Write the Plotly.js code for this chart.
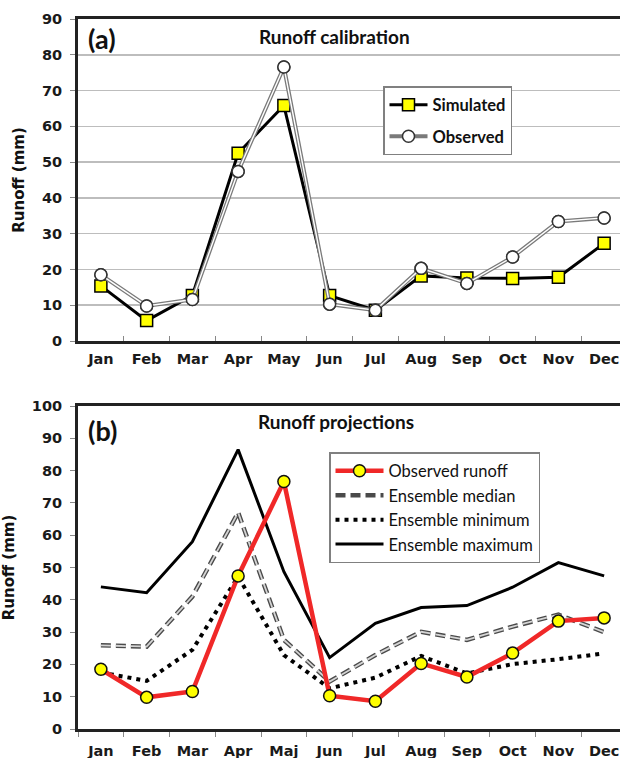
<!DOCTYPE html>
<html><head><meta charset="utf-8">
<script src="https://cdn.plot.ly/plotly-3.0.1.min.js"></script>
<style>html,body{margin:0;padding:0;overflow:hidden;background:#fff;width:620px;height:758px}#chart{width:640px;height:758px}</style>
</head><body><div id="chart"></div><script>
const monthsA = ['Jan','Feb','Mar','Apr','May','Jun','Jul','Aug','Sep','Oct','Nov','Dec'];
const monthsB = ['Jan','Feb','Mar','Apr','Maj','Jun','Jul','Aug','Sep','Oct','Nov','Dec'];
const simulated = [15.4, 5.7, 12.7, 52.5, 65.8, 12.7, 8.6, 18.2, 17.6, 17.5, 17.8, 27.3];
const observed  = [18.5, 9.8, 11.6, 47.4, 76.6, 10.3, 8.6, 20.3, 16.1, 23.5, 33.4, 34.4];
const ensMedian = [25.9, 25.5, 41.0, 67.0, 27.6, 14.7, 22.9, 30.1, 27.6, 31.7, 35.4, 30.0];
const ensMin    = [17.5, 14.9, 24.5, 47.2, 22.9, 12.6, 15.9, 22.6, 17.2, 20.1, 21.6, 23.4];
const ensMax    = [44.0, 42.2, 58.0, 86.5, 48.7, 22.1, 32.7, 37.6, 38.2, 43.9, 51.5, 47.4];
const yTicksA = [0,10,20,30,40,50,60,70,80,90];
const yTicksB = [0,10,20,30,40,50,60,70,80,90,100];

const W = 640, H = 758;
const px = v => v / W, py = v => 1 - v / H;
const yellow = '#FFFF00';

const traces = [
  {x: monthsA, y: simulated, name: 'Simulated', mode: 'lines+markers', xaxis: 'x', yaxis: 'y',
   legend: 'legend', legendgroup: 'sim',
   line: {color: '#000', width: 3},
   marker: {symbol: 'square', size: 12, color: yellow, line: {color: '#000', width: 1.5}}},
  {x: monthsA, y: observed, name: 'Observed', mode: 'lines+markers', xaxis: 'x', yaxis: 'y',
   legend: 'legend', legendgroup: 'obs',
   line: {color: '#7a7a7a', width: 4},
   marker: {symbol: 'circle', size: 12, color: '#fff', line: {color: '#333', width: 1.5}}},
  {x: monthsA, y: observed, mode: 'lines', xaxis: 'x', yaxis: 'y', showlegend: false, legendgroup: 'obs',
   line: {color: '#fff', width: 1.4}, hoverinfo: 'skip'},
  {x: monthsA, y: observed, mode: 'markers', xaxis: 'x', yaxis: 'y', showlegend: false, legendgroup: 'obs',
   marker: {symbol: 'circle', size: 12, color: '#fff', line: {color: '#333', width: 1.5}}},

  {x: monthsB, y: ensMax, name: 'Ensemble maximum', mode: 'lines', xaxis: 'x2', yaxis: 'y2',
   legend: 'legend2', legendrank: 4, line: {color: '#000', width: 3}},
  {x: monthsB, y: ensMedian, name: 'Ensemble median', mode: 'lines', xaxis: 'x2', yaxis: 'y2',
   legend: 'legend2', legendrank: 2, line: {color: '#4a4a4a', width: 4.5, dash: '10px,5px'}},
  {x: monthsB, y: ensMedian, mode: 'lines', xaxis: 'x2', yaxis: 'y2', showlegend: false,
   line: {color: '#d4d4d4', width: 1.8, dash: '10px,5px'}, hoverinfo: 'skip'},
  {x: monthsB, y: ensMin, name: 'Ensemble minimum', mode: 'lines', xaxis: 'x2', yaxis: 'y2',
   legend: 'legend2', legendrank: 3, line: {color: '#000', width: 4, dash: '4px,5px'}},
  {x: monthsB, y: observed, name: 'Observed runoff', mode: 'lines+markers', xaxis: 'x2', yaxis: 'y2',
   legend: 'legend2', legendrank: 1,
   line: {color: '#F02828', width: 4.5},
   marker: {symbol: 'circle', size: 12, color: yellow, line: {color: '#111', width: 1.5}}}
];

const tickFont = {family: 'DejaVu Sans', size: 14.5, weight: 'bold', color: '#1a1a1a'};
const frame = {showline: true, linecolor: '#222', linewidth: 3, mirror: true, zeroline: false};

const layout = {
  width: W, height: H,
  margin: {l: 0, r: 0, t: 0, b: 0},
  paper_bgcolor: '#fff', plot_bgcolor: '#fff',
  showlegend: true,
  xaxis: Object.assign({}, frame, {domain: [px(78), px(627)], anchor: 'y', type: 'category',
    categoryorder: 'array', categoryarray: monthsA, range: [-0.5, 11.5],
    tickson: 'boundaries', ticks: 'inside', ticklen: 5, tickcolor: '#888', tickwidth: 1,
    showgrid: false, tickfont: tickFont, ticklabelstandoff: 3}),
  yaxis: Object.assign({}, frame, {domain: [1 - 341/H, 1 - 19/H], anchor: 'x', range: [0, 90],
    tickvals: yTicksA, ticks: 'outside', ticklen: 5, tickcolor: '#888', tickwidth: 1,
    showgrid: true, gridcolor: '#bdbdbd', gridwidth: 1.5, tickfont: tickFont, ticklabelstandoff: 5,
    title: {text: 'Runoff (mm)', font: {family: 'DejaVu Sans', size: 15, weight: 'bold', color: '#111'}, standoff: 14}}),
  xaxis2: Object.assign({}, frame, {domain: [px(78), px(627)], anchor: 'y2', type: 'category',
    categoryorder: 'array', categoryarray: monthsB, range: [-0.5, 11.5],
    tickson: 'boundaries', ticks: 'outside', ticklen: 5, tickcolor: '#888', tickwidth: 1,
    showgrid: false, tickfont: tickFont, ticklabelstandoff: 7}),
  yaxis2: Object.assign({}, frame, {domain: [1 - 729/H, 1 - 406/H], anchor: 'x2', range: [0, 100],
    tickvals: yTicksB, ticks: 'outside', ticklen: 5, tickcolor: '#888', tickwidth: 1,
    showgrid: false, tickfont: tickFont, ticklabelstandoff: 5,
    title: {text: 'Runoff (mm)', font: {family: 'DejaVu Sans', size: 15, weight: 'bold', color: '#111'}, standoff: 14}}),
  legend: {x: px(383), y: py(86), xanchor: 'left', yanchor: 'top', bgcolor: '#fff',
    bordercolor: '#808080', borderwidth: 1.5, traceorder: 'grouped', tracegroupgap: 7, itemwidth: 38,
    font: {family: 'Lato', size: 16.5, weight: 'bold', color: '#111'}},
  legend2: {x: px(329), y: py(452), xanchor: 'left', yanchor: 'top', bgcolor: '#fff',
    bordercolor: '#808080', borderwidth: 1.5, traceorder: 'normal', itemwidth: 48,
    font: {family: 'Lato', size: 16.5, color: '#111'}},
  annotations: [
    {text: '(a)', xref: 'paper', yref: 'paper', x: px(86), y: py(38), xanchor: 'left', yanchor: 'middle',
     showarrow: false, font: {family: 'Lato', size: 27, weight: 'bold', color: '#111'}},
    {text: 'Runoff calibration', xref: 'paper', yref: 'paper', x: px(334), y: py(36), xanchor: 'center', yanchor: 'middle',
     showarrow: false, font: {family: 'Lato', size: 19, weight: 'bold', color: '#111'}},
    {text: '(b)', xref: 'paper', yref: 'paper', x: px(86), y: py(430), xanchor: 'left', yanchor: 'middle',
     showarrow: false, font: {family: 'Lato', size: 27, weight: 'bold', color: '#111'}},
    {text: 'Runoff projections', xref: 'paper', yref: 'paper', x: px(336), y: py(421), xanchor: 'center', yanchor: 'middle',
     showarrow: false, font: {family: 'Lato', size: 19, weight: 'bold', color: '#111'}}
  ]
};

Plotly.newPlot('chart', traces, layout, {displayModeBar: false, staticPlot: true});
</script></body></html>
